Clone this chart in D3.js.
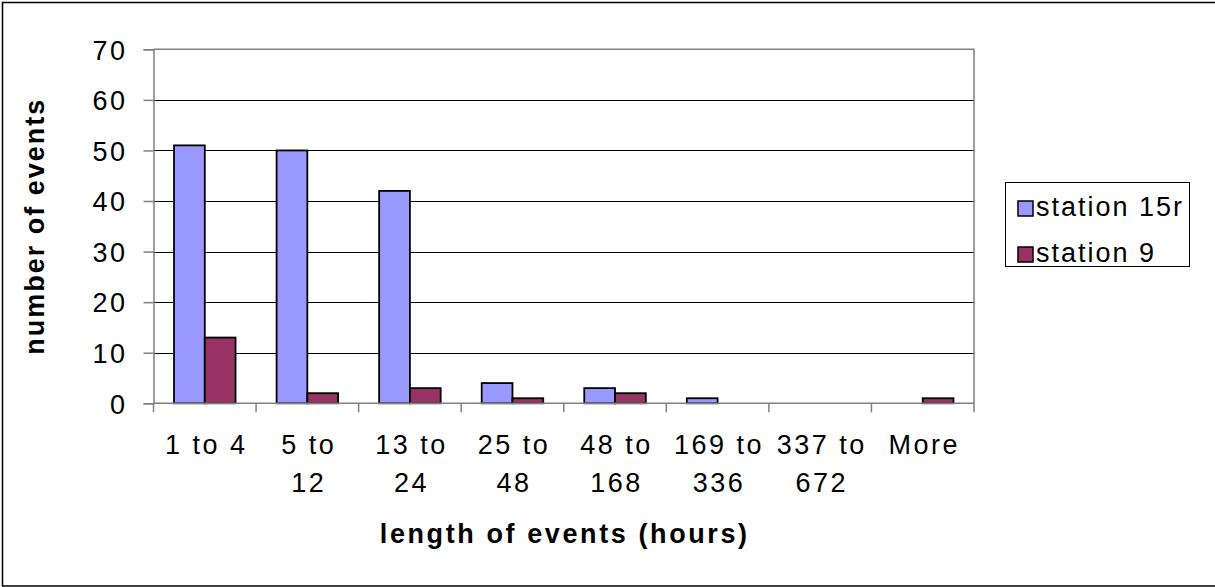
<!DOCTYPE html>
<html>
<head>
<meta charset="utf-8">
<script src="https://cdn.jsdelivr.net/npm/d3@7"></script>
<style>
  html, body { margin: 0; padding: 0; background: #fff; }
  svg { display: block; }
  text { font-family: "Liberation Sans", Arial, sans-serif; fill: #000; }
</style>
</head>
<body>
<script>
// Event-length histogram for two stations
const categories = ["1 to 4", "5 to 12", "13 to 24", "25 to 48", "48 to 168", "169 to 336", "337 to 672", "More"];
const categoryLines = [["1 to 4"], ["5 to", "12"], ["13 to", "24"], ["25 to", "48"], ["48 to", "168"], ["169 to", "336"], ["337 to", "672"], ["More"]];
const seriesNames = ["station 15r", "station 9"];
const station15r = [51, 50, 42, 4, 3, 1, 0, 0];
const station9 = [13, 2, 3, 1, 2, 0, 0, 1];
const yTicks = [0, 10, 20, 30, 40, 50, 60, 70];
const seriesColors = ["#9999FF", "#993366"];

const W = 1215, H = 587;
const plot = { left: 153.5, right: 974, top: 49.3, bottom: 403.3 };

const svg = d3.select("body").append("svg").attr("width", W).attr("height", H);

// outer chart frame
svg.append("rect")
  .attr("x", 2.5).attr("y", 2.5)
  .attr("width", W + 10).attr("height", 583.5)
  .attr("fill", "#fff").attr("stroke", "#000").attr("stroke-width", 1.5);

const x = d3.scaleBand().domain(categories).range([plot.left, plot.right]).padding(0);
const xs = d3.scaleBand().domain(seriesNames).range([0, x.bandwidth()]).paddingInner(0).paddingOuter(0.667);
const y = d3.scaleLinear().domain([0, 70]).range([plot.bottom, plot.top]);

// horizontal gridlines
svg.append("g").selectAll("line")
  .data(yTicks.filter(t => t > 0 && t < 70))
  .join("line")
  .attr("x1", plot.left).attr("x2", plot.right)
  .attr("y1", d => Math.round(y(d)) + 0.5).attr("y2", d => Math.round(y(d)) + 0.5)
  .attr("stroke", "#000").attr("stroke-width", 1);

// plot area top and right edges
svg.append("path")
  .attr("d", `M${plot.left},${y(70)}H${plot.right}V${plot.bottom}`)
  .attr("fill", "none").attr("stroke", "#808080").attr("stroke-width", 1.5);

// bars
const rows = categories.map((c, i) => ({ cat: c, vals: [station15r[i], station9[i]] }));
const groups = svg.append("g").selectAll("g")
  .data(rows).join("g")
  .attr("transform", d => `translate(${x(d.cat)},0)`);
groups.selectAll("rect")
  .data(d => d.vals.map((v, j) => ({ name: seriesNames[j], v, j })))
  .join("rect")
  .filter(d => d.v > 0)
  .attr("x", d => xs(d.name))
  .attr("y", d => y(d.v))
  .attr("width", xs.bandwidth())
  .attr("height", d => y(0) - y(d.v))
  .attr("fill", d => seriesColors[d.j])
  .attr("stroke", "#000").attr("stroke-width", 1.8);

// y axis
const yAxis = d3.axisLeft(y).tickValues(yTicks).tickSize(10).tickPadding(16);
const yg = svg.append("g").attr("transform", `translate(${plot.left},0)`).call(yAxis);
yg.select(".domain").attr("stroke", "#808080").attr("stroke-width", 1.5);
yg.selectAll(".tick line").attr("stroke", "#808080").attr("stroke-width", 1.5);
yg.selectAll(".tick text")
  .attr("font-family", "Liberation Sans, Arial, sans-serif")
  .attr("font-size", 27).attr("letter-spacing", 2.5).attr("dy", "0.36em");

// x axis line and boundary ticks
const xg = svg.append("g");
xg.append("line")
  .attr("x1", plot.left).attr("x2", plot.right)
  .attr("y1", plot.bottom).attr("y2", plot.bottom)
  .attr("stroke", "#808080").attr("stroke-width", 1.5);
const bounds = categories.map(c => x(c)).concat([x(categories[categories.length - 1]) + x.bandwidth()]);
xg.selectAll("line.tk").data(bounds).join("line").attr("class", "tk")
  .attr("x1", d => d).attr("x2", d => d)
  .attr("y1", plot.bottom).attr("y2", plot.bottom + 9)
  .attr("stroke", "#808080").attr("stroke-width", 1.5);

// category labels (wrapped)
const lbl = xg.selectAll("text.cat").data(categories).join("text").attr("class", "cat")
  .attr("text-anchor", "middle")
  .attr("font-size", 27).attr("letter-spacing", 2.5)
  .attr("transform", d => `translate(${x(d) + x.bandwidth() / 2 + 1.5},0)`);
lbl.selectAll("tspan").data((d, i) => categoryLines[i]).join("tspan")
  .attr("x", 0)
  .attr("y", (d, k) => 454 + k * 37.5)
  .text(d => d);

// axis titles
svg.append("text")
  .attr("x", (plot.left + plot.right) / 2 + 1).attr("y", 543)
  .attr("text-anchor", "middle").attr("font-weight", "bold")
  .attr("font-size", 27).attr("letter-spacing", 2.6)
  .text("length of events (hours)");

svg.append("text")
  .attr("transform", `translate(44,${(plot.top + plot.bottom) / 2}) rotate(-90)`)
  .attr("text-anchor", "middle").attr("font-weight", "bold")
  .attr("font-size", 27).attr("letter-spacing", 2)
  .text("number of events");

// legend
const lg = svg.append("g");
lg.append("rect")
  .attr("x", 1005.5).attr("y", 182.5).attr("width", 184).attr("height", 84)
  .attr("fill", "#fff").attr("stroke", "#000").attr("stroke-width", 1);
const items = lg.selectAll("g.item").data(seriesNames).join("g").attr("class", "item")
  .attr("transform", (d, i) => `translate(1018,${201 + i * 46})`);
items.append("rect")
  .attr("width", 15).attr("height", 15)
  .attr("fill", (d, i) => seriesColors[i])
  .attr("stroke", "#000").attr("stroke-width", 1.5);
items.append("text")
  .attr("x", 18).attr("y", 15)
  .attr("font-size", 27).attr("letter-spacing", 2)
  .text(d => d);
</script>
</body>
</html>
